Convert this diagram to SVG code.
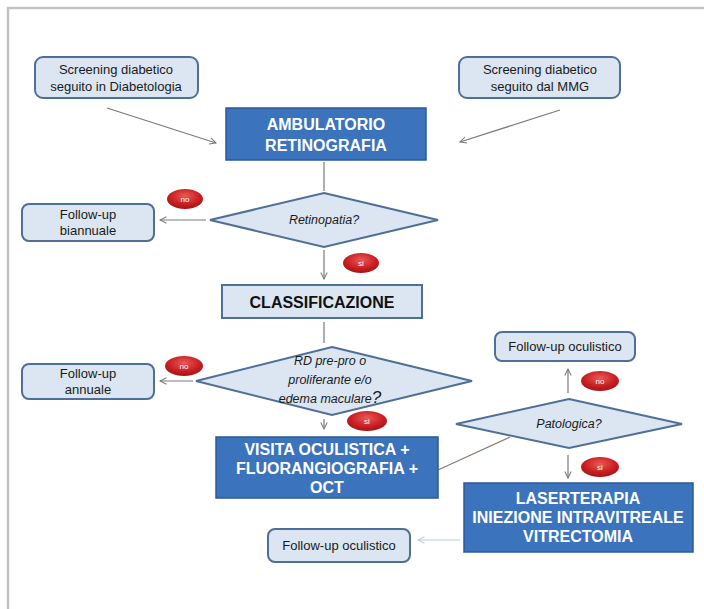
<svg xmlns="http://www.w3.org/2000/svg" width="704" height="609" viewBox="0 0 704 609">
<defs>
<style>
.lb{fill:#dbe6f2;stroke:#4f6f96;stroke-width:2}
.bb{fill:#3b73bc;stroke:#2e5a92;stroke-width:1.5}
.t{font-family:"Liberation Sans Narrow","Arial Narrow","Liberation Sans",Arial,sans-serif;font-size:13px;fill:#1a1a1a;text-anchor:middle}
.ti{font-family:"Liberation Sans",Arial,sans-serif;font-size:12.5px;font-style:italic;fill:#1a1a1a;text-anchor:middle}
.tw{font-family:"Liberation Sans",Arial,sans-serif;font-size:16px;font-weight:bold;fill:#ffffff;text-anchor:middle}
.tk{font-family:"Liberation Sans",Arial,sans-serif;font-size:16px;font-weight:bold;fill:#111111;text-anchor:middle}
.tr{font-family:"Liberation Sans",Arial,sans-serif;font-size:8px;fill:#ffffff;text-anchor:middle}
.c{stroke:#7a7a7a;stroke-width:1.2;fill:none}
.r{fill:url(#red)}
</style>
<radialGradient id="red" cx="0.5" cy="0.35" r="0.7">
<stop offset="0" stop-color="#e85a55"/>
<stop offset="0.6" stop-color="#c81e22"/>
<stop offset="1" stop-color="#9a1215"/>
</radialGradient>
<marker id="ah" viewBox="0 0 10 10" refX="9" refY="5" markerWidth="8" markerHeight="8" orient="auto" markerUnits="userSpaceOnUse">
<path d="M1,1 L9,5 L1,9" fill="none" stroke="#7a7a7a" stroke-width="1.3"/>
</marker>
<marker id="ahb" viewBox="0 0 10 10" refX="9" refY="5" markerWidth="8" markerHeight="8" orient="auto" markerUnits="userSpaceOnUse">
<path d="M1,1 L9,5 L1,9" fill="none" stroke="#b8cde0" stroke-width="1.3"/>
</marker>
</defs>
<rect width="704" height="609" fill="#ffffff"/>
<path d="M8,609 V8 H704" fill="none" stroke="#c3c3c7" stroke-width="2.5"/>

<g id="connectors">
<line class="c" x1="107" y1="108" x2="216" y2="143" marker-end="url(#ah)"/>
<line class="c" x1="560" y1="110" x2="460" y2="142" marker-end="url(#ah)"/>
<line class="c" x1="324" y1="162" x2="324" y2="191"/>
<line class="c" x1="206" y1="220" x2="160" y2="220" marker-end="url(#ah)"/>
<line class="c" x1="324" y1="250" x2="324" y2="279" marker-end="url(#ah)"/>
<line class="c" x1="324" y1="322" x2="324" y2="343"/>
<line class="c" x1="193" y1="381" x2="160" y2="381" marker-end="url(#ah)"/>
<line class="c" x1="324" y1="419" x2="324" y2="429" marker-end="url(#ah)"/>
<line x1="438" y1="470" x2="510" y2="437" stroke="#8a7a72" stroke-width="1.2"/>
<line class="c" x1="568" y1="393" x2="568" y2="369" marker-end="url(#ah)"/>
<line class="c" x1="568" y1="455" x2="568" y2="478" marker-end="url(#ah)"/>
<line x1="460" y1="540" x2="418" y2="540" stroke="#b8cde0" stroke-width="1.2" marker-end="url(#ahb)"/>
</g>

<g id="screening-diabetologia">
<rect class="lb" x="35" y="57" width="163" height="41" rx="8"/>
<text class="t" x="116" y="74">Screening diabetico</text>
<text class="t" x="116" y="91">seguito in Diabetologia</text>
</g>
<g id="screening-mmg">
<rect class="lb" x="459" y="57" width="161" height="41" rx="8"/>
<text class="t" x="540" y="74">Screening diabetico</text>
<text class="t" x="540" y="91">seguito dal MMG</text>
</g>
<g id="ambulatorio">
<rect class="bb" x="226" y="108" width="200" height="52"/>
<text class="tw" x="326" y="130">AMBULATORIO</text>
<text class="tw" x="326" y="151">RETINOGRAFIA</text>
</g>
<g id="retinopatia">
<polygon class="lb" points="324,193 438,220 324,247 210,220"/>
<text class="ti" x="324" y="224">Retinopatia?</text>
</g>
<g id="followup-biannuale">
<rect class="lb" x="22" y="204" width="132" height="37" rx="7"/>
<text class="t" x="88" y="219">Follow-up</text>
<text class="t" x="88" y="235">biannuale</text>
</g>
<g id="no1"><ellipse class="r" cx="185" cy="199" rx="18" ry="10"/><text class="tr" x="185" y="202">no</text></g>
<g id="si1"><ellipse class="r" cx="361" cy="263" rx="18" ry="10"/><text class="tr" x="361" y="266">si</text></g>
<g id="classificazione">
<rect class="lb" x="222" y="285" width="200" height="33"/>
<text class="tk" x="322" y="308">CLASSIFICAZIONE</text>
</g>
<g id="rd">
<polygon class="lb" points="332,347 472,381 332,415 196,381"/>
<text class="ti" x="330" y="365">RD pre-pro o</text>
<text class="ti" x="330" y="384">proliferante e/o</text>
<text class="ti" x="330" y="403">edema maculare<tspan font-size="17">?</tspan></text>
</g>
<g id="followup-annuale">
<rect class="lb" x="22" y="364" width="132" height="35" rx="7"/>
<text class="t" x="88" y="378">Follow-up</text>
<text class="t" x="88" y="394">annuale</text>
</g>
<g id="no2"><ellipse class="r" cx="184" cy="366" rx="19" ry="10"/><text class="tr" x="184" y="369">no</text></g>
<g id="si2"><ellipse class="r" cx="367" cy="421" rx="20" ry="10"/><text class="tr" x="367" y="424">si</text></g>
<g id="visita">
<rect class="bb" x="216" y="437" width="222" height="61"/>
<text class="tw" x="327" y="455">VISITA OCULISTICA +</text>
<text class="tw" x="327" y="474">FLUORANGIOGRAFIA +</text>
<text class="tw" x="327" y="493">OCT</text>
</g>
<g id="patologica">
<polygon class="lb" points="569,399 682,424 569,448 456,424"/>
<text class="ti" x="569" y="428">Patologica?</text>
</g>
<g id="followup-oculistico-1">
<rect class="lb" x="495" y="332" width="140" height="29" rx="7"/>
<text class="t" x="565" y="351">Follow-up oculistico</text>
</g>
<g id="no3"><ellipse class="r" cx="600" cy="381" rx="19" ry="10"/><text class="tr" x="600" y="384">no</text></g>
<g id="si3"><ellipse class="r" cx="600" cy="467" rx="19" ry="10"/><text class="tr" x="600" y="470">si</text></g>
<g id="laserterapia">
<rect class="bb" x="464" y="483" width="229" height="69"/>
<text class="tw" x="578" y="504">LASERTERAPIA</text>
<text class="tw" x="578" y="523">INIEZIONE INTRAVITREALE</text>
<text class="tw" x="578" y="542">VITRECTOMIA</text>
</g>
<g id="followup-oculistico-2">
<rect class="lb" x="268" y="529" width="142" height="33" rx="7"/>
<text class="t" x="339" y="550">Follow-up oculistico</text>
</g>
</svg>
